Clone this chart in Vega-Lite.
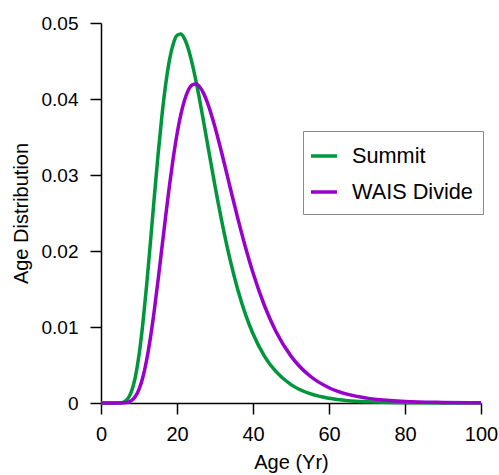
{
  "$schema": "https://vega.github.io/schema/vega-lite/v6.json",
  "autosize": {"type": "none"},
  "padding": {"left": 101, "top": 23, "right": 18, "bottom": 72},
  "width": 380,
  "height": 380,
  "background": "white",
  "config": {
    "view": {"stroke": null},
    "font": "Liberation Sans"
  },
  "data": {
    "values": [
      {"site": "Summit", "age": 0, "dist": 0},
      {"site": "Summit", "age": 4, "dist": 0},
      {"site": "Summit", "age": 5, "dist": 0.00002},
      {"site": "Summit", "age": 6, "dist": 0.00013},
      {"site": "Summit", "age": 7, "dist": 0.00052},
      {"site": "Summit", "age": 8, "dist": 0.00149},
      {"site": "Summit", "age": 9, "dist": 0.00334},
      {"site": "Summit", "age": 10, "dist": 0.00631},
      {"site": "Summit", "age": 11, "dist": 0.0104},
      {"site": "Summit", "age": 12, "dist": 0.01544},
      {"site": "Summit", "age": 13, "dist": 0.02109},
      {"site": "Summit", "age": 14, "dist": 0.02694},
      {"site": "Summit", "age": 15, "dist": 0.03258},
      {"site": "Summit", "age": 16, "dist": 0.03763},
      {"site": "Summit", "age": 17, "dist": 0.04184},
      {"site": "Summit", "age": 18, "dist": 0.04508},
      {"site": "Summit", "age": 19, "dist": 0.04724},
      {"site": "Summit", "age": 20, "dist": 0.04838},
      {"site": "Summit", "age": 21, "dist": 0.04856},
      {"site": "Summit", "age": 22, "dist": 0.04791},
      {"site": "Summit", "age": 23, "dist": 0.04656},
      {"site": "Summit", "age": 24, "dist": 0.04466},
      {"site": "Summit", "age": 25, "dist": 0.04235},
      {"site": "Summit", "age": 26, "dist": 0.03977},
      {"site": "Summit", "age": 27, "dist": 0.03701},
      {"site": "Summit", "age": 28, "dist": 0.03418},
      {"site": "Summit", "age": 30, "dist": 0.02857},
      {"site": "Summit", "age": 32, "dist": 0.02338},
      {"site": "Summit", "age": 34, "dist": 0.01879},
      {"site": "Summit", "age": 36, "dist": 0.01491},
      {"site": "Summit", "age": 38, "dist": 0.0117},
      {"site": "Summit", "age": 40, "dist": 0.00911},
      {"site": "Summit", "age": 43, "dist": 0.00618},
      {"site": "Summit", "age": 46, "dist": 0.00415},
      {"site": "Summit", "age": 50, "dist": 0.00242},
      {"site": "Summit", "age": 55, "dist": 0.00122},
      {"site": "Summit", "age": 60, "dist": 0.00062},
      {"site": "Summit", "age": 65, "dist": 0.00031},
      {"site": "Summit", "age": 70, "dist": 0.00016},
      {"site": "Summit", "age": 80, "dist": 0.00004},
      {"site": "Summit", "age": 90, "dist": 0.00001},
      {"site": "Summit", "age": 100, "dist": 0},
      {"site": "WAIS Divide", "age": 0, "dist": 0},
      {"site": "WAIS Divide", "age": 5, "dist": 0},
      {"site": "WAIS Divide", "age": 6, "dist": 0.00002},
      {"site": "WAIS Divide", "age": 7, "dist": 0.00009},
      {"site": "WAIS Divide", "age": 8, "dist": 0.00031},
      {"site": "WAIS Divide", "age": 9, "dist": 0.00082},
      {"site": "WAIS Divide", "age": 10, "dist": 0.00179},
      {"site": "WAIS Divide", "age": 11, "dist": 0.00336},
      {"site": "WAIS Divide", "age": 12, "dist": 0.00562},
      {"site": "WAIS Divide", "age": 13, "dist": 0.00857},
      {"site": "WAIS Divide", "age": 14, "dist": 0.01211},
      {"site": "WAIS Divide", "age": 15, "dist": 0.01609},
      {"site": "WAIS Divide", "age": 16, "dist": 0.02029},
      {"site": "WAIS Divide", "age": 17, "dist": 0.02451},
      {"site": "WAIS Divide", "age": 18, "dist": 0.02855},
      {"site": "WAIS Divide", "age": 19, "dist": 0.0322},
      {"site": "WAIS Divide", "age": 20, "dist": 0.03537},
      {"site": "WAIS Divide", "age": 21, "dist": 0.03794},
      {"site": "WAIS Divide", "age": 22, "dist": 0.03988},
      {"site": "WAIS Divide", "age": 23, "dist": 0.04119},
      {"site": "WAIS Divide", "age": 24, "dist": 0.04187},
      {"site": "WAIS Divide", "age": 25, "dist": 0.04198},
      {"site": "WAIS Divide", "age": 26, "dist": 0.04158},
      {"site": "WAIS Divide", "age": 27, "dist": 0.04074},
      {"site": "WAIS Divide", "age": 28, "dist": 0.03953},
      {"site": "WAIS Divide", "age": 30, "dist": 0.0363},
      {"site": "WAIS Divide", "age": 32, "dist": 0.03243},
      {"site": "WAIS Divide", "age": 34, "dist": 0.02832},
      {"site": "WAIS Divide", "age": 36, "dist": 0.02429},
      {"site": "WAIS Divide", "age": 38, "dist": 0.02053},
      {"site": "WAIS Divide", "age": 40, "dist": 0.01713},
      {"site": "WAIS Divide", "age": 43, "dist": 0.01283},
      {"site": "WAIS Divide", "age": 46, "dist": 0.00945},
      {"site": "WAIS Divide", "age": 50, "dist": 0.00617},
      {"site": "WAIS Divide", "age": 55, "dist": 0.00355},
      {"site": "WAIS Divide", "age": 60, "dist": 0.00201},
      {"site": "WAIS Divide", "age": 65, "dist": 0.00113},
      {"site": "WAIS Divide", "age": 70, "dist": 0.00064},
      {"site": "WAIS Divide", "age": 80, "dist": 0.0002},
      {"site": "WAIS Divide", "age": 90, "dist": 0.00007},
      {"site": "WAIS Divide", "age": 100, "dist": 0.00002}
    ]
  },
  "mark": {"type": "line", "interpolate": "monotone", "strokeWidth": 3.5, "clip": false},
  "encoding": {
    "x": {
      "field": "age", "type": "quantitative",
      "scale": {"domain": [0, 100], "nice": false, "zero": false},
      "axis": {
        "title": "Age (Yr)", "values": [0, 20, 40, 60, 80, 100], "format": "d",
        "grid": false, "domainColor": "black", "domainWidth": 1.5,
        "tickColor": "black", "tickWidth": 1.5, "tickSize": 11,
        "labelFontSize": 20, "labelColor": "black", "labelPadding": 10,
        "labelFlush": false, "labelOverlap": false,
        "titleFontSize": 20, "titleFontWeight": "normal", "titleColor": "black", "titlePadding": 8
      }
    },
    "y": {
      "field": "dist", "type": "quantitative",
      "scale": {"domain": [0, 0.05], "nice": false},
      "axis": {
        "title": "Age Distribution", "values": [0, 0.01, 0.02, 0.03, 0.04, 0.05], "format": ".2~f",
        "grid": false, "domainColor": "black", "domainWidth": 1.5,
        "tickColor": "black", "tickWidth": 1.5, "tickSize": 11,
        "labelFontSize": 19, "labelColor": "black", "labelPadding": 12,
        "labelFlush": false, "labelOverlap": false,
        "titleFontSize": 20, "titleFontWeight": "normal", "titleColor": "black", "titlePadding": 10
      }
    },
    "color": {
      "field": "site", "type": "nominal",
      "scale": {"domain": ["Summit", "WAIS Divide"], "range": ["#00963C", "#9900CC"]},
      "legend": {
        "title": null, "orient": "none", "legendX": 202, "legendY": 108,
        "fillColor": "white", "strokeColor": "#888888", "padding": 10,
        "symbolType": "stroke", "symbolSize": 676, "symbolStrokeWidth": 3.5, "symbolOffset": -4,
        "labelFontSize": 21.7, "labelColor": "black", "labelOffset": 13, "rowPadding": 9,
        "labelLimit": 300
      }
    }
  }
}
